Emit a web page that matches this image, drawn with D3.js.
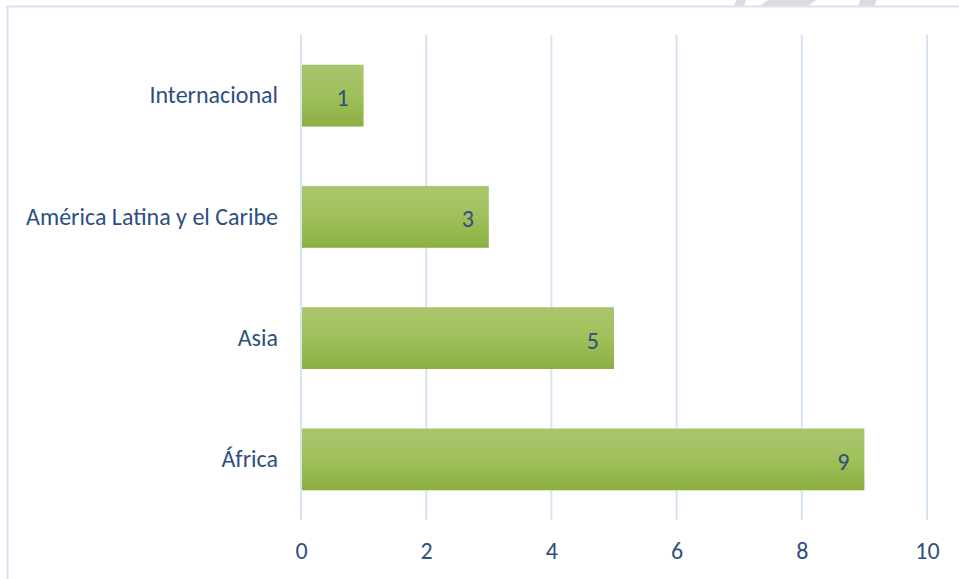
<!DOCTYPE html>
<html><head><meta charset="utf-8">
<script src="https://cdn.jsdelivr.net/npm/d3@7"></script>
<style>body{margin:0;background:#fff}svg{display:block}</style>
</head><body>
<svg id="c" width="959" height="579"></svg>
<script>
const categories = ["Internacional", "América Latina y el Caribe", "Asia", "África"];
const values = [1, 3, 5, 9];
const xTicks = [0, 2, 4, 6, 8, 10];

const svg = d3.select("#c");
const font = "Carlito, 'Open Sans', sans-serif";
const textColor = "#2d4f80";
const gridColor = "#d6e3f2";

// watermark fragments (decorative)
svg.append("g").attr("fill", "#dcdcdc")
  .selectAll("polygon").data([
    "736,0 746,0 744,6 734,6",
    "768,0 816,0 808,6 760,6",
    "860,0 876,0 875,6 858,6"
  ]).join("polygon").attr("points", d => d);

// frame
svg.append("line").attr("x1", 6).attr("x2", 959).attr("y1", 6.5).attr("y2", 6.5)
  .attr("stroke", gridColor).attr("stroke-width", 2);
svg.append("line").attr("x1", 7.5).attr("x2", 7.5).attr("y1", 6).attr("y2", 579)
  .attr("stroke", gridColor).attr("stroke-width", 2);

const x = d3.scaleLinear().domain([0, 10]).range([301, 927]);
const y = d3.scaleBand().domain(categories).range([35, 520]).paddingInner(0.49).paddingOuter(0.245);

// gridlines
svg.append("g").selectAll("line").data(xTicks).join("line")
  .attr("x1", d => x(d)).attr("x2", d => x(d))
  .attr("y1", 35).attr("y2", 520)
  .attr("stroke", gridColor).attr("stroke-width", 2);

// gradient
const grad = svg.append("defs").append("linearGradient").attr("id", "g")
  .attr("x1", 0).attr("y1", 0).attr("x2", 0).attr("y2", 1);
grad.append("stop").attr("offset", "0%").attr("stop-color", "#abc56e");
grad.append("stop").attr("offset", "50%").attr("stop-color", "#9fc05a");
grad.append("stop").attr("offset", "100%").attr("stop-color", "#8baf43");

const data = categories.map((c, i) => ({c, v: values[i]}));

svg.append("g").selectAll("rect").data(data).join("rect")
  .attr("x", x(0) + 1).attr("y", d => y(d.c))
  .attr("width", d => x(d.v) - x(0) - 1).attr("height", y.bandwidth())
  .attr("fill", "url(#g)");

// value labels
svg.append("g").selectAll("text").data(data).join("text")
  .attr("x", d => x(d.v) - 15).attr("y", d => y(d.c) + y.bandwidth() / 2 + 2)
  .attr("dy", "0.35em").attr("text-anchor", "end")
  .attr("font-family", font).attr("font-size", 24).attr("fill", textColor)
  .text(d => d.v);

// category axis
const yAxis = svg.append("g").attr("transform", "translate(301,0)")
  .call(d3.axisLeft(y).tickSize(0).tickPadding(23));
yAxis.select(".domain").remove();
yAxis.selectAll("text").attr("font-family", font).attr("font-size", 24).attr("fill", textColor);

// value axis
const xAxis = svg.append("g").attr("transform", "translate(0,520)")
  .call(d3.axisBottom(x).tickValues(xTicks).tickSize(0).tickPadding(22).tickFormat(d3.format("d")));
xAxis.select(".domain").remove();
xAxis.selectAll("text").attr("font-family", font).attr("font-size", 24).attr("fill", textColor);
</script>
</body></html>
